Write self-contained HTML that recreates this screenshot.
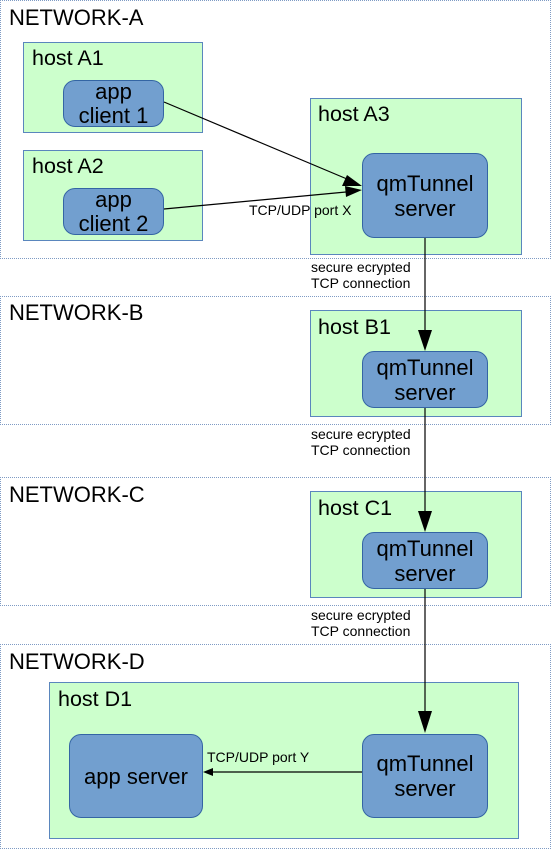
<!DOCTYPE html>
<html><head><style>
body{margin:0;width:551px;height:850px;background:#fff;overflow:hidden;position:relative;font-family:"Liberation Sans",sans-serif}
.n{position:absolute;border:1px dotted #7f9bc4;box-sizing:border-box}
.h{position:absolute;background:#ccffcc;border:1px solid #5a86bd;box-sizing:border-box}
.b{position:absolute;background:#729fcf;border:1px solid #3465a4;box-sizing:border-box;border-radius:12px;display:flex;align-items:center;justify-content:center;text-align:center;font-size:22px;line-height:25px;color:#000}
.t{position:absolute;font-size:21.5px;color:#000;white-space:nowrap}
.N{font-size:22px}
.s{position:absolute;font-size:14px;line-height:16px;color:#000;white-space:nowrap}
</style></head><body>
<div class="n" style="left:0;top:0;width:551px;height:259px"></div>
<div class="n" style="left:0;top:296px;width:551px;height:129px"></div>
<div class="n" style="left:0;top:477px;width:551px;height:129px"></div>
<div class="n" style="left:0;top:644px;width:551px;height:205px"></div>
<div class="t N" style="left:9px;top:5px">NETWORK-A</div>
<div class="t N" style="left:9px;top:300px">NETWORK-B</div>
<div class="t N" style="left:9px;top:482px">NETWORK-C</div>
<div class="t N" style="left:9px;top:649px">NETWORK-D</div>

<div class="h" style="left:23px;top:42px;width:180px;height:91px"></div>
<div class="t" style="left:32px;top:46px">host A1</div>
<div class="b" style="left:63px;top:80px;width:101px;height:47px;line-height:24px">app<br>client 1</div>
<div class="h" style="left:23px;top:150px;width:180px;height:91px"></div>
<div class="t" style="left:32px;top:154px">host A2</div>
<div class="b" style="left:63px;top:188px;width:101px;height:47px;line-height:24px">app<br>client 2</div>

<div class="h" style="left:310px;top:98px;width:212px;height:157px"></div>
<div class="t" style="left:318px;top:102px">host A3</div>
<div class="b" style="left:362px;top:153px;width:126px;height:85px">qmTunnel<br>server</div>

<div class="h" style="left:310px;top:310px;width:212px;height:107px"></div>
<div class="t" style="left:318px;top:315px">host B1</div>
<div class="b" style="left:362px;top:351px;width:126px;height:57px">qmTunnel<br>server</div>

<div class="h" style="left:310px;top:491px;width:212px;height:107px"></div>
<div class="t" style="left:318px;top:496px">host C1</div>
<div class="b" style="left:362px;top:532px;width:126px;height:57px">qmTunnel<br>server</div>

<div class="h" style="left:49px;top:682px;width:470px;height:157px"></div>
<div class="t" style="left:58px;top:687px">host D1</div>
<div class="b" style="left:69px;top:734px;width:134px;height:84px">app server</div>
<div class="b" style="left:362px;top:734px;width:126px;height:84px">qmTunnel<br>server</div>

<div class="s" style="left:249px;top:202px">TCP/UDP port X</div>
<div class="s" style="left:207px;top:749px">TCP/UDP port Y</div>
<div class="s" style="left:311px;top:259px">secure ecrypted<br>TCP connection</div>
<div class="s" style="left:311px;top:426px">secure ecrypted<br>TCP connection</div>
<div class="s" style="left:311px;top:607px">secure ecrypted<br>TCP connection</div>

<svg width="551" height="850" style="position:absolute;left:0;top:0">
<g stroke="#000" stroke-width="1.2" fill="#000">
<line x1="164" y1="102" x2="347" y2="179"/>
<polygon points="362,186 342,186 347,175" stroke="none"/>
<line x1="164" y1="209" x2="346" y2="192"/>
<polygon points="362,190 346,197 345,186" stroke="none"/>
<line x1="425" y1="238" x2="425" y2="332"/>
<polygon points="425,351 418,330 432,330" stroke="none"/>
<line x1="425" y1="408" x2="425" y2="513"/>
<polygon points="425,532 418,511 432,511" stroke="none"/>
<line x1="425" y1="589" x2="425" y2="713"/>
<polygon points="425,733 418,711 432,711" stroke="none"/>
<line x1="362" y1="772" x2="210" y2="772"/>
<polygon points="203,772 213,768 213,776" stroke="none"/>
</g></svg>
</body></html>
